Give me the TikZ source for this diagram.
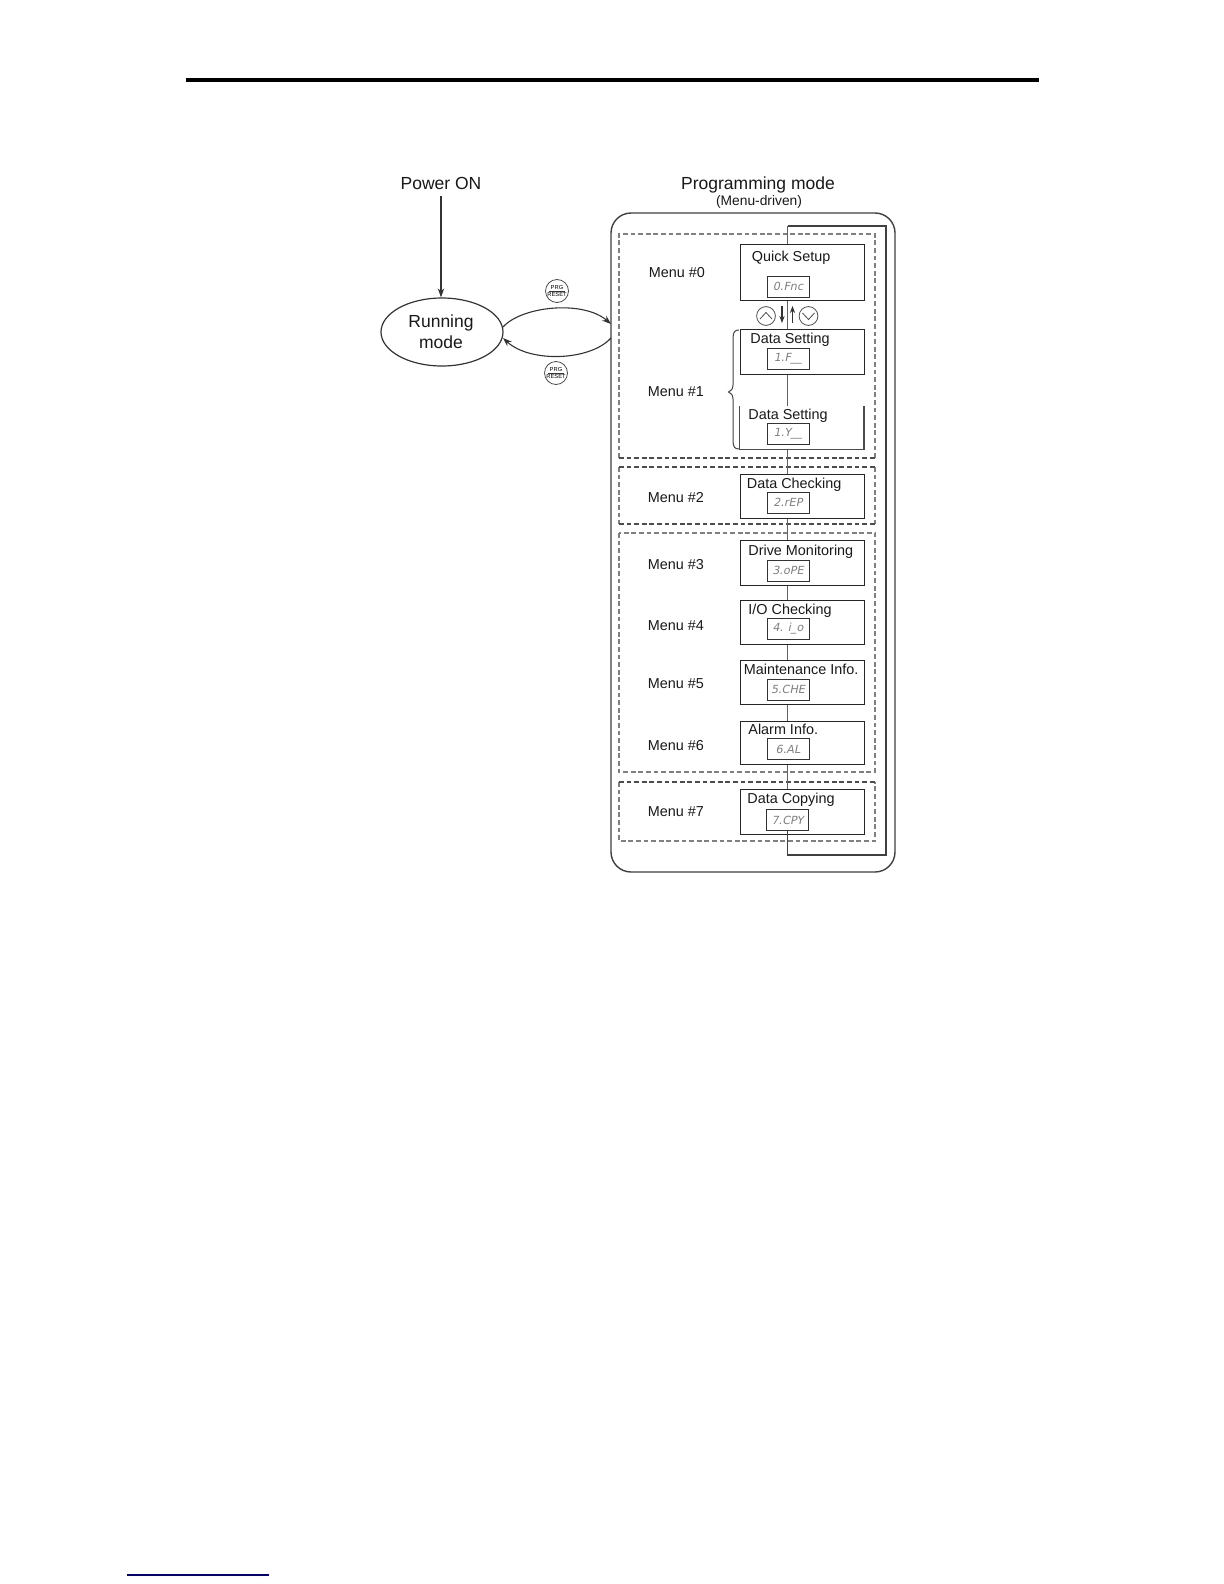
\documentclass[tikz,border=0pt]{standalone}
\usepackage{fontspec}
\setmainfont{Liberation Sans}
\usetikzlibrary{arrows.meta,calc,shapes.geometric}
\newfontfamily\lcdfont[FakeSlant=0.2]{DejaVu Sans}
\definecolor{linegray}{gray}{0.38}
\definecolor{dashgray}{gray}{0.5}
\tikzset{
  x=0.5pt,y=-0.5pt,
  menubox/.style={draw=black!85,line width=0.55pt,fill=white,minimum width=62.1pt,anchor=north west,inner sep=0pt},
  lcd/.style={draw=black!80,line width=0.5pt,fill=white,minimum width=21pt,minimum height=10.5pt,inner sep=0pt,font=\lcdfont\fontsize{5.6}{6}\selectfont,text=black!50},
  zone/.style={draw=dashgray,line width=0.6pt,dash pattern=on 2.4pt off 1.4pt},
  zonedark/.style={draw=black!70,line width=0.65pt,dash pattern=on 2.4pt off 1.4pt},
  title/.style={font=\fontsize{7.2}{8}\selectfont,text=black!90,inner sep=0pt,anchor=base west},
  menulabel/.style={font=\fontsize{7.2}{8}\selectfont,text=black!90,inner sep=0pt},
  biglabel/.style={font=\fontsize{8.75}{10}\selectfont,text=black!90,inner sep=0pt},
  conn/.style={draw=linegray,line width=0.65pt},
  loopline/.style={draw=black!75,line width=0.8pt},
  flow/.style={draw=black!80,line width=0.55pt,-{Stealth[length=4.5pt,width=3.2pt]}},
  smallflow/.style={draw=black!80,line width=0.55pt,-{Stealth[length=3.5pt,width=2.6pt]}},
  keybtn/.style={circle,draw=black!70,line width=0.4pt,minimum size=9.4pt,inner sep=0pt},
  prgbtn/.style={circle,draw=black!70,line width=0.4pt,minimum size=11.5pt,inner sep=0pt,align=center,font=\fontsize{2.9}{3.2}\selectfont},
}
\begin{document}
\begin{tikzpicture}
\useasboundingbox (0,0) rectangle (1224,1584);
\fill[white] (0,0) rectangle (1224,1584);
\coordinate (barL) at (186,80);
\coordinate (barR) at (1039,80);
\draw[black,line width=2pt] (barL) -- (barR);
\coordinate (footL) at (127,1575);
\coordinate (footR) at (269,1575);
\draw[blue!50!black,line width=0.6pt] (footL) -- (footR);

% outer panel
\draw[draw=black!75,line width=0.7pt,rounded corners=10pt] (611,213) rectangle (895,872);
\node[biglabel] (prog) at (758,185) {Programming mode};
\node[font=\fontsize{6.9}{8}\selectfont,text=black!90,inner sep=0pt] (driven) at (759,202) {(Menu-driven)};

% dashed zones
\draw[zone] (619,458) -- (619,234) -- (875,234) -- (875,458);
\draw[zonedark] (619,458) -- (875,458);
\draw[zone] (619,467) -- (619,524) (875,467) -- (875,524);
\draw[zonedark] (619,467) -- (875,467) (619,524) -- (875,524);
\draw[zone] (619,533) rectangle (875,772);
\draw[zone] (619,782) -- (619,841) -- (875,841) -- (875,782);
\draw[zonedark] (619,782) -- (875,782);

% free corners of the return loop
\coordinate (loopTL) at (787.5,226);
\coordinate (loopTR) at (886,226);
\coordinate (loopBR) at (886,855);
\coordinate (loopBL) at (787.5,855);

% menu boxes
\node[menubox,minimum height=28.25pt] (b0) at (739.8,243.5) {};
\node[menubox,minimum height=22.5pt] (b1) at (739.8,329) {};
\node[menubox,minimum height=22pt] (b2) at (739.8,474) {};
\node[menubox,minimum height=22.5pt] (b3) at (739.8,540) {};
\node[menubox,minimum height=22pt] (b4) at (739.8,600) {};
\node[menubox,minimum height=22pt] (b5) at (739.8,660) {};
\node[menubox,minimum height=21.5pt] (b6) at (739.8,721) {};
\node[menubox,minimum height=22.5pt] (b7) at (739.8,789) {};
% open-topped second Data Setting box
\coordinate (b1bTL) at (739.8,406);
\coordinate (b1bBL) at (739.8,449.5);
\coordinate (b1bBR) at (864,449.5);
\coordinate (b1bTR) at (864,406);
\coordinate (b1bTop) at (787.5,406);
\coordinate (b1bBot) at (787.5,449.5);
\draw[draw=black!70,line width=0.55pt] (b1bTL) -- (b1bBL) -- (b1bBR) -- (b1bTR);

% displays
\node[lcd] (l0) at (788,286.5) {0.Fnc};
\node[lcd] (l1) at (788,358.5) {1.F\_\_};
\node[lcd] (l1b) at (788,433.5) {1.Y\_\_};
\node[lcd] (l2) at (788,502.5) {2.rEP};
\node[lcd] (l3) at (788,570.5) {3.oPE};
\node[lcd] (l4) at (788,628.5) {4. i\_o};
\node[lcd] (l5) at (788,689.5) {5.CHE};
\node[lcd] (l6) at (788,749) {6.AL};
\node[lcd] (l7) at (787.5,820) {7.CPY};

% connectors
\draw[conn] (b0.south -| loopTL) -- (b1.north -| loopTL);
\draw[conn] (b1.south -| loopTL) -- (b1bTop);
\draw[conn] (b1bBot) -- (b2.north -| loopTL);
\draw[conn] (b2.south -| loopTL) -- (b3.north -| loopTL);
\draw[conn] (b3.south -| loopTL) -- (b4.north -| loopTL);
\draw[conn] (b4.south -| loopTL) -- (b5.north -| loopTL);
\draw[conn] (b5.south -| loopTL) -- (b6.north -| loopTL);
\draw[conn] (b6.south -| loopTL) -- (b7.north -| loopTL);
\draw[conn] (b0.north -| loopTL) -- (loopTL);
\draw[loopline] (loopTL) -- (loopTR) -- (loopBR) -- (loopBL) -- (l7.south -| loopBL);

% titles
\node[title] (t0) at (751.5,261.5) {Quick Setup};
\node[title] (t1) at (750,343.5) {Data Setting};
\node[title] (t1b) at (748,419.5) {Data Setting};
\node[title] (t2) at (746.5,488.5) {Data Checking};
\node[title] (t3) at (748,555.5) {Drive Monitoring};
\node[title] (t4) at (748,614.5) {I/O Checking};
\node[title] (t5) at (743.5,674.5) {Maintenance Info.};
\node[title] (t6) at (748,734.5) {Alarm Info.};
\node[title] (t7) at (747,803.5) {Data Copying};

% menu labels
\node[menulabel] (m0) at (677,273) {Menu \#0};
\node[menulabel] (m1) at (676,392) {Menu \#1};
\node[menulabel] (m2) at (676,498) {Menu \#2};
\node[menulabel] (m3) at (676,565) {Menu \#3};
\node[menulabel] (m4) at (676,626) {Menu \#4};
\node[menulabel] (m5) at (676,684) {Menu \#5};
\node[menulabel] (m6) at (676,746) {Menu \#6};
\node[menulabel] (m7) at (676,812) {Menu \#7};

% brace
\coordinate (brT) at (739,330);
\coordinate (brB) at (739,449);
\draw[draw=black!75,line width=0.5pt] (brT) .. controls (735,330) and (733,332) .. (733,338)
  -- (733,385) .. controls (733,389) and (731,391) .. (728.5,392)
  .. controls (731,393) and (733,395) .. (733,399) -- (733,441)
  .. controls (733,447) and (735,449) .. (brB);

% up / down keys
\node[keybtn] (up) at (766,316) {};
\node[keybtn] (down) at (808.5,316) {};
\draw[draw=black!70,line width=0.4pt] ($(up)+(-6,3)$) -- ($(up)+(0,-3.5)$) -- ($(up)+(6,3)$);
\draw[draw=black!70,line width=0.4pt] ($(down)+(-6,-3)$) -- ($(down)+(0,3.5)$) -- ($(down)+(6,-3)$);
\coordinate (dnA) at (782,306);
\coordinate (dnB) at (782,323);
\coordinate (upA) at (792.5,323);
\coordinate (upB) at (792.5,306);
\draw[smallflow] (dnA) -- (dnB);
\draw[smallflow] (upA) -- (upB);

% left part
\node[biglabel] (power) at (441,183) {Power ON};
\node[draw=black!80,line width=0.6pt,ellipse,minimum width=61pt,minimum height=34pt,inner sep=0pt] (run) at (442,332) {};
\node[biglabel] (r1) at (441,323) {Running};
\node[biglabel] (r2) at (441,342.5) {mode};
\coordinate (powerOut) at (441,196);
\draw[flow] (powerOut) -- (run.north -| powerOut);
\coordinate (panelIn) at (611,324);
\coordinate (panelOut) at (611,338);
\coordinate (runOut) at (503,327);
\coordinate (runIn) at (503,338);
\draw[flow] (runOut) .. controls (522,306) and (583,300) .. (panelIn);
\draw[flow] (panelOut) .. controls (590,361) and (530,363) .. (runIn);
\node[prgbtn] (p1) at (557,291) {PRG\\[-0.1pt]RESET};
\node[prgbtn] (p2) at (556,373) {PRG\\[-0.1pt]RESET};
\coordinate (p1a) at (549,291.5); \coordinate (p1b) at (565,291.5);
\coordinate (p2a) at (548,373.5); \coordinate (p2b) at (564,373.5);
\draw[line width=0.4pt,black!80] (p1a) -- (p1b) (p2a) -- (p2b);
\end{tikzpicture}
\end{document}
